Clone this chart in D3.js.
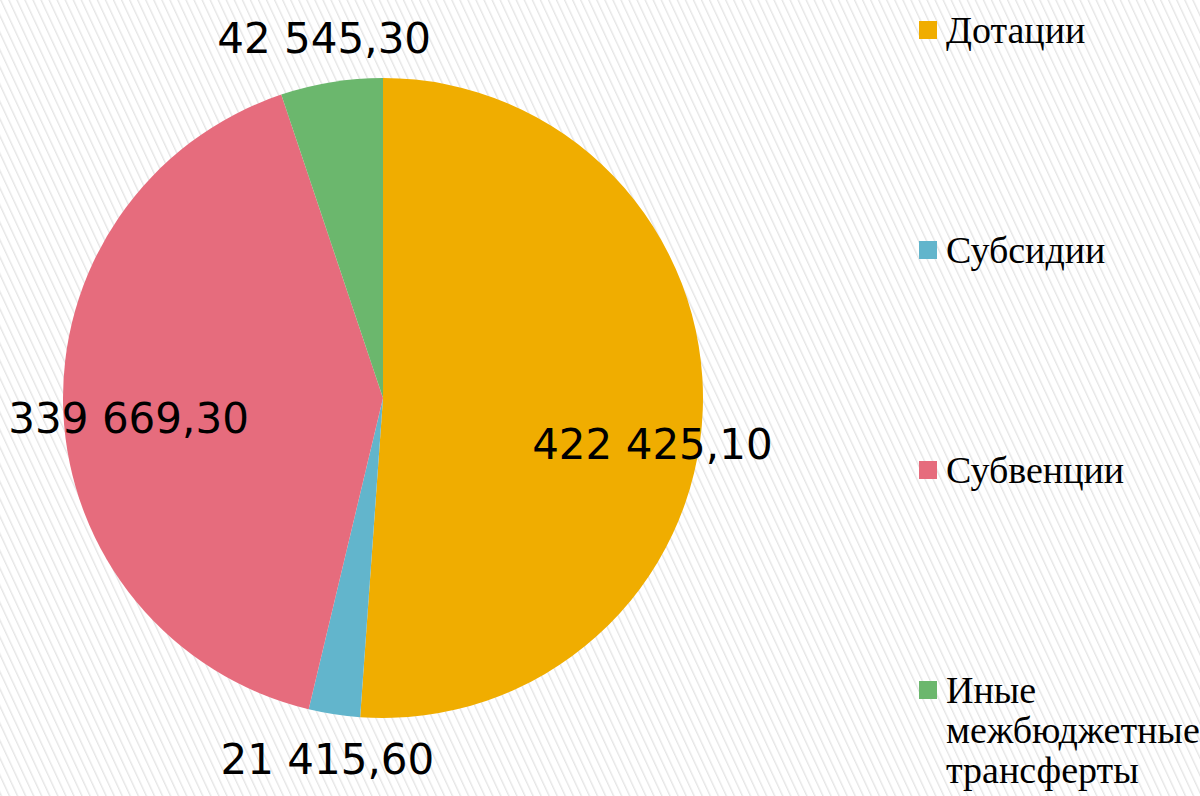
<!DOCTYPE html>
<html>
<head>
<meta charset="utf-8">
<script src="https://cdnjs.cloudflare.com/ajax/libs/d3/7.8.5/d3.min.js"></script>
<style>
  body { margin: 0; background: #fff; }
  svg { display: block; }
</style>
</head>
<body>
<div id="chart"></div>
<script>
// data
var categories = ["Дотации", "Субсидии", "Субвенции", "Иные межбюджетные трансферты"];
var values = [422425.10, 21415.60, 339669.30, 42545.30];
var legendLines = [["Дотации"], ["Субсидии"], ["Субвенции"], ["Иные", "межбюджетные", "трансферты"]];
var colors = ["#f0ad00", "#62b5cc", "#e66c7d", "#6bb76d"];

var width = 1200, height = 796;
var cx = 383, cy = 398, radius = 320;

var ru = d3.formatLocale({decimal: ",", thousands: "\u00a0", grouping: [3], currency: ["", ""]});
var fmt = ru.format(",.2f");

var svg = d3.select("#chart")
    .append("svg")
    .attr("width", width)
    .attr("height", height);

// striped background
var defs = svg.append("defs");
var pat = defs.append("pattern")
    .attr("id", "stripes")
    .attr("patternUnits", "userSpaceOnUse")
    .attr("width", 7.3)
    .attr("height", 20)
    .attr("patternTransform", "rotate(-25)");
pat.append("rect").attr("width", 7.3).attr("height", 20).attr("fill", "#fff");
pat.append("line")
    .attr("x1", 0.7).attr("x2", 0.7)
    .attr("y1", 0).attr("y2", 20)
    .attr("stroke", "#e4e4e4")
    .attr("stroke-width", 1.3);

svg.append("rect")
    .attr("width", width)
    .attr("height", height)
    .attr("fill", "url(#stripes)");

var pie = d3.pie().sort(null).value(function(d) { return d; });
var arcs = pie(values);

var arc = d3.arc().innerRadius(0).outerRadius(radius);

var g = svg.append("g")
    .attr("transform", "translate(" + cx + "," + cy + ")");

g.selectAll("path.slice")
    .data(arcs)
    .enter()
    .append("path")
    .attr("class", "slice")
    .attr("d", arc)
    .attr("fill", function(d, i) { return colors[i]; });

// data labels: small slices outside, large ones inside (rough "best fit")
var total = d3.sum(values);
g.selectAll("text.lbl")
    .data(arcs)
    .enter()
    .append("text")
    .attr("class", "lbl")
    .attr("transform", function(d) {
        var mid = (d.startAngle + d.endAngle) / 2;
        var small = d.value / total < 0.1;
        var x, y;
        if (small) {
            x = (radius + 45) * Math.sin(mid);
            y = -(radius + 45) * Math.cos(mid);
        } else {
            var a = mid + 3 * Math.PI / 180;
            x = radius * 0.82 * Math.sin(a) + radius * 0.025;
            y = -radius * 0.82 * Math.cos(a) + radius * 0.07;
        }
        return "translate(" + x + "," + y + ")";
    })
    .attr("dy", "0.36em")
    .attr("text-anchor", "middle")
    .style("font-family", "'DejaVu Sans', Verdana, sans-serif")
    .style("font-size", "42px")
    .style("fill", "#000")
    .text(function(d) { return fmt(d.value); });

// legend
var legend = svg.append("g")
    .attr("transform", "translate(919,43)");

var item = legend.selectAll("g.item")
    .data(categories)
    .enter()
    .append("g")
    .attr("class", "item")
    .attr("transform", function(d, i) { return "translate(0," + (i * 220) + ")"; });

item.append("rect")
    .attr("x", 0)
    .attr("y", -22)
    .attr("width", 18)
    .attr("height", 18)
    .attr("fill", function(d, i) { return colors[i]; });

item.append("text")
    .attr("x", 27)
    .style("font-family", "'Liberation Serif', 'Times New Roman', serif")
    .style("font-size", "38px")
    .style("fill", "#000")
    .each(function(d, i) {
        var t = d3.select(this);
        legendLines[i].forEach(function(line, j) {
            t.append("tspan")
                .attr("x", 27)
                .attr("y", j * 40)
                .text(line);
        });
    });
</script>
</body>
</html>
